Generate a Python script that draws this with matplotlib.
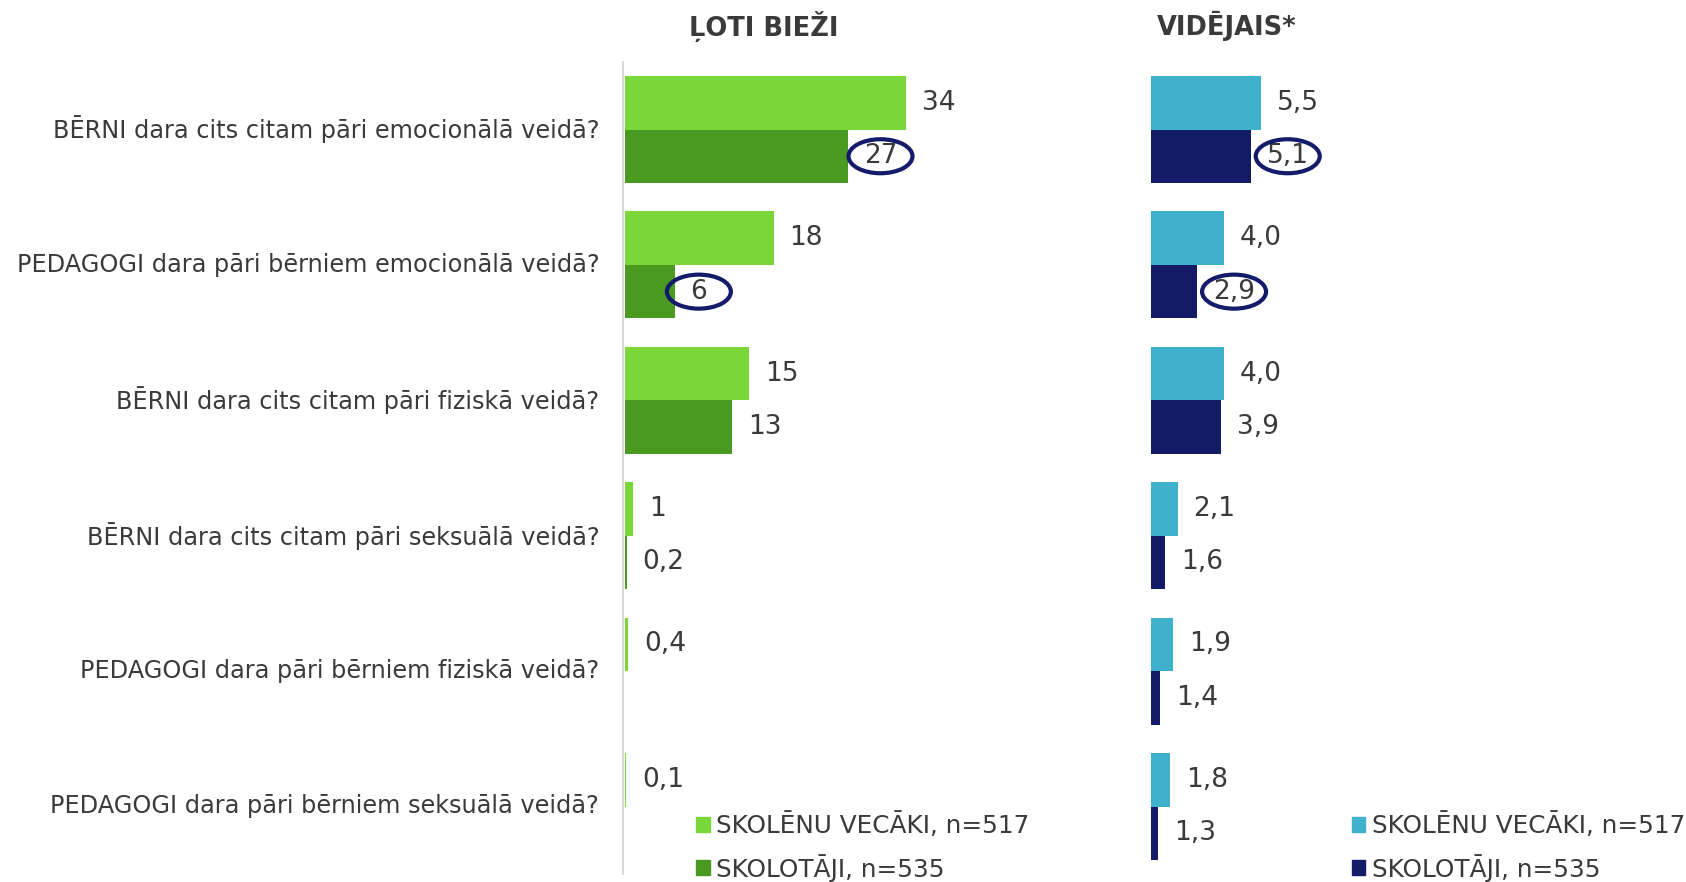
import numpy as np
import matplotlib
matplotlib.use('Agg')
import matplotlib.pyplot as plt
from matplotlib.patches import Patch, Ellipse

questions = ['BĒRNI dara cits citam pāri emocionālā veidā?',
             'PEDAGOGI dara pāri bērniem emocionālā veidā?',
             'BĒRNI dara cits citam pāri fiziskā veidā?',
             'BĒRNI dara cits citam pāri seksuālā veidā?',
             'PEDAGOGI dara pāri bērniem fiziskā veidā?',
             'PEDAGOGI dara pāri bērniem seksuālā veidā?']

# "ļoti bieži", %
often_parents = [34, 18, 15, 1, 0.4, 0.1]
often_teachers = [27, 6, 13, 0.2, np.nan, np.nan]

# vidējais
avg_parents = [5.5, 4.0, 4.0, 2.1, 1.9, 1.8]
avg_teachers = [5.1, 2.9, 3.9, 1.6, 1.4, 1.3]

legend_labels = ['SKOLĒNU VECĀKI, n=517', 'SKOLOTĀJI, n=535']
titles = ['ĻOTI BIEŽI', 'VIDĒJAIS*']
circled = [0, 1]   # rows where teachers' value is circled

W, H = 1686, 882
txt = '#3a3a3a'

fig = plt.figure(figsize=(W / 100, H / 100), dpi=100)
plt.rcParams['font.family'] = 'DejaVu Sans'

y0, step = 129.5, 135.4
ax_top = y0 - step / 2
ax_bot = y0 + 5.5 * step
bh = 0.395

def make_ax(left_px, px_per_unit, xmin, width_px):
    ax = fig.add_axes([left_px / W, (H - ax_bot) / H, width_px / W, (ax_bot - ax_top) / H])
    ax.set_xlim(xmin, xmin + width_px / px_per_unit)
    ax.set_ylim(5.5, -0.5)
    for s in ['top', 'right', 'bottom']:
        ax.spines[s].set_visible(False)
    ax.spines['left'].set_color('#d9d9d9')
    ax.spines['left'].set_linewidth(1.5)
    ax.spines['left'].set_position(('outward', 1.1))
    ax.set_xticks([])
    return ax

ax1 = make_ax(625, 8.25, 0, 420)
ax2 = make_ax(1150.7, 24.4, 1, 420)
ax2.spines['left'].set_visible(False)

y = np.arange(len(questions))

def draw(ax, a, b, colors, fmt, base):
    a = np.array(a, dtype=float)
    b = np.array(b, dtype=float)
    ax.barh(y - bh / 2, a - base, height=bh, left=base, color=colors[0], edgecolor='none')
    ok = ~np.isnan(b)
    ax.barh(y[ok] + bh / 2, b[ok] - base, height=bh, left=base, color=colors[1], edgecolor='none')
    lab_b = []
    for i in range(len(a)):
        ax.annotate(fmt(a[i]), (a[i], y[i] - bh / 2), xytext=(16, 0),
                    textcoords='offset pixels', ha='left', va='center',
                    fontsize=19, color=txt)
        if ok[i]:
            lab_b.append(ax.annotate(fmt(b[i]), (b[i], y[i] + bh / 2), xytext=(16, 0),
                                     textcoords='offset pixels', ha='left', va='center',
                                     fontsize=19, color=txt))
        else:
            lab_b.append(None)
    ax.legend(handles=[Patch(color=colors[0], label=legend_labels[0]),
                       Patch(color=colors[1], label=legend_labels[1])],
              frameon=False, fontsize=17.8, labelcolor=txt,
              handlelength=0.56, handleheight=0.56, handletextpad=0.25,
              labelspacing=0.64, borderpad=0, borderaxespad=0)
    return lab_b

fmt1 = lambda v: f'{v:g}'.replace('.', ',')
fmt2 = lambda v: f'{v:.1f}'.replace('.', ',')

lb1 = draw(ax1, often_parents, often_teachers, ['#79d73a', '#4a9a22'], fmt1, 0)
lb2 = draw(ax2, avg_parents, avg_teachers, ['#3fb1cd', '#131b66'], fmt2, 1)

# legends below the last row
ax1.get_legend().set_bbox_to_anchor((696 / W, 1 - 812 / H), transform=fig.transFigure)
ax1.get_legend().set_loc('upper left')
ax2.get_legend().set_bbox_to_anchor((1351.5 / W, 1 - 812 / H), transform=fig.transFigure)
ax2.get_legend().set_loc('upper left')

ax1.set_yticks(y)
ax1.set_yticklabels(questions, fontsize=17.3, color=txt, va='center')
ax1.tick_params(axis='y', length=0, pad=17.5)
ax2.set_yticks([])

fig.text(764 / W, 1 - 26 / H, titles[0], ha='center', va='center',
         fontsize=18.5, fontweight='bold', color=txt)
fig.text(1227 / W, 1 - 26 / H, titles[1], ha='center', va='center',
         fontsize=18.5, fontweight='bold', color=txt)

# circle the highlighted values
fig.canvas.draw()
inv = fig.transFigure.inverted()
for labs in (lb1, lb2):
    for i in circled:
        bb = labs[i].get_window_extent()
        cx, cy = inv.transform(((bb.x0 + bb.x1) / 2, (bb.y0 + bb.y1) / 2))
        fig.add_artist(Ellipse((cx, cy), 64 / W, 34 / H, transform=fig.transFigure,
                               fill=False, edgecolor='#141b6b', linewidth=3))

fig.savefig('out.png', dpi=100)
